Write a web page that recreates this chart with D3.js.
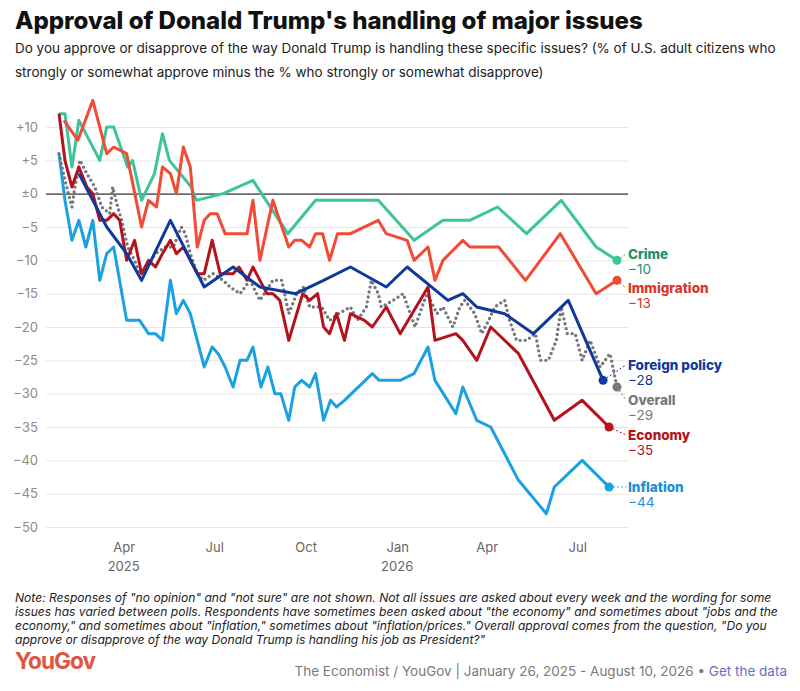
<!DOCTYPE html>
<html>
<head>
<meta charset="utf-8">
<script src="https://cdn.jsdelivr.net/npm/d3@7"></script>
<style>
body { margin: 0; background: #fff; }
text { font-family: Inter, "Noto Sans", sans-serif; }
</style>
</head>
<body>
<div id="chart"></div>
<script>
// Net approval (% approve minus % disapprove)
var crime = [
  ["2025-01-26",12],["2025-02-01",12],["2025-02-08",4],["2025-02-15",11],["2025-03-08",5],["2025-03-15",10],
  ["2025-03-22",10],["2025-04-05",4],["2025-04-10",5],["2025-04-19",-1],["2025-05-02",3],["2025-05-10",9],
  ["2025-05-17",5],["2025-06-08",1],["2025-06-13",-1],["2025-07-10",0],["2025-08-09",2],["2025-09-13",-6],
  ["2025-10-11",-1],["2025-11-09",-1],["2025-12-13",-1],["2026-01-18",-7],["2026-02-16",-4],["2026-03-15",-4],
  ["2026-04-12",-2],["2026-05-11",-6],["2026-06-15",-1],["2026-07-20",-8],["2026-08-10",-10]
];
var immigration = [
  ["2025-01-31",11],["2025-02-14",8],["2025-03-01",14],["2025-03-15",6],["2025-03-22",7],["2025-04-04",6],
  ["2025-04-19",-5],["2025-04-26",-1],["2025-05-04",-2],["2025-05-10",4],["2025-05-18",3],["2025-05-24",0],
  ["2025-05-31",7],["2025-06-07",4],["2025-06-14",-8],["2025-06-21",-4],["2025-06-27",-3],["2025-07-04",-3],
  ["2025-07-12",-6],["2025-07-19",-6],["2025-07-27",-6],["2025-08-03",-6],["2025-08-09",-1],["2025-08-16",-10],
  ["2025-08-29",-1],["2025-09-14",-8],["2025-09-20",-7],["2025-09-27",-7],["2025-10-05",-8],["2025-10-11",-6],
  ["2025-10-18",-6],["2025-10-25",-10],["2025-11-02",-6],["2025-11-15",-6],["2025-12-13",-4],["2025-12-21",-6],
  ["2026-01-11",-7],["2026-01-18",-10],["2026-02-01",-8],["2026-02-08",-13],["2026-02-16",-10],["2026-03-08",-7],
  ["2026-03-15",-8],["2026-04-13",-8],["2026-05-10",-13],["2026-06-14",-6],["2026-07-20",-15],["2026-08-10",-13]
];
var economy = [
  ["2025-01-26",12],["2025-02-01",5],["2025-02-08",1],["2025-02-15",4],["2025-02-23",1],["2025-03-01",0],
  ["2025-03-08",-4],["2025-03-15",-4],["2025-03-22",-3],["2025-03-28",-4],["2025-04-04",-10],["2025-04-12",-7],
  ["2025-04-19",-12],["2025-04-26",-10],["2025-05-03",-11],["2025-05-10",-9],["2025-05-18",-7],["2025-05-24",-9],
  ["2025-05-31",-8],["2025-06-07",-10],["2025-06-14",-12],["2025-06-21",-12],["2025-06-29",-7],["2025-07-07",-12],
  ["2025-07-14",-12],["2025-07-20",-12],["2025-07-26",-11],["2025-08-03",-13],["2025-08-09",-11],["2025-08-16",-13],
  ["2025-08-23",-15],["2025-08-29",-15],["2025-09-05",-16],["2025-09-14",-22],["2025-09-20",-19],["2025-09-28",-15],
  ["2025-10-05",-16],["2025-10-13",-15],["2025-10-19",-20],["2025-10-25",-21],["2025-11-01",-18],["2025-11-09",-22],
  ["2025-11-15",-18],["2025-11-29",-19],["2025-12-07",-20],["2025-12-21",-17],["2026-01-04",-21],["2026-02-01",-14],
  ["2026-02-08",-22],["2026-03-01",-21],["2026-03-08",-22],["2026-03-22",-25],["2026-04-05",-20],["2026-05-03",-24],
  ["2026-06-08",-34],["2026-07-06",-31],["2026-08-02",-35]
];
var foreignPolicy = [
  ["2025-02-15",3],["2025-03-15",-5],["2025-04-04",-9],["2025-04-19",-13],["2025-05-18",-4],["2025-06-21",-14],
  ["2025-07-20",-11],["2025-08-16",-14],["2025-09-21",-15],["2025-10-19",-13],["2025-11-15",-11],["2025-12-21",-14],
  ["2026-01-11",-11],["2026-02-21",-16],["2026-03-08",-15],["2026-03-22",-17],["2026-04-19",-18],["2026-05-18",-21],
  ["2026-06-22",-16],["2026-07-27",-28]
];
var inflation = [
  ["2025-01-26",6],["2025-02-01",-1],["2025-02-08",-7],["2025-02-15",-4],["2025-02-22",-8],["2025-03-01",-4],
  ["2025-03-08",-13],["2025-03-15",-9],["2025-03-22",-8],["2025-04-04",-19],["2025-04-11",-19],["2025-04-17",-19],
  ["2025-04-26",-21],["2025-05-03",-21],["2025-05-10",-22],["2025-05-18",-13],["2025-05-24",-18],["2025-05-31",-16],
  ["2025-06-07",-18],["2025-06-21",-26],["2025-06-29",-23],["2025-07-05",-24],["2025-07-12",-26],["2025-07-20",-29],
  ["2025-07-27",-25],["2025-08-03",-25],["2025-08-09",-23],["2025-08-17",-29],["2025-08-24",-26],["2025-08-31",-30],
  ["2025-09-06",-30],["2025-09-14",-34],["2025-09-20",-29],["2025-09-27",-28],["2025-10-05",-29],["2025-10-11",-27],
  ["2025-10-19",-34],["2025-10-26",-31],["2025-11-01",-32],["2025-11-09",-31],["2025-12-07",-27],["2025-12-14",-28],
  ["2026-01-04",-28],["2026-01-18",-27],["2026-02-01",-23],["2026-02-08",-28],["2026-03-01",-33],["2026-03-08",-29],
  ["2026-03-22",-34],["2026-04-05",-35],["2026-05-03",-43],["2026-05-31",-48],["2026-06-08",-44],["2026-07-06",-40],
  ["2026-08-02",-44]
];
var overall = [
  ["2025-01-26",6],["2025-02-01",2],["2025-02-08",-2],["2025-02-11",1],["2025-02-16",5],["2025-02-23",3],
  ["2025-03-03",1],["2025-03-10",-2],["2025-03-18",-3],["2025-03-21",1],["2025-03-26",-2],["2025-03-30",-4],
  ["2025-04-05",-8],["2025-04-12",-10],["2025-04-17",-12],["2025-04-24",-11],["2025-05-03",-9],["2025-05-13",-8],
  ["2025-05-21",-8],["2025-05-29",-5],["2025-06-02",-6],["2025-06-07",-9],["2025-06-14",-12],["2025-06-20",-13],
  ["2025-06-30",-12],["2025-07-10",-13],["2025-07-17",-14],["2025-07-27",-15],["2025-08-06",-13],["2025-08-16",-16],
  ["2025-08-29",-13],["2025-09-07",-13],["2025-09-14",-18],["2025-09-22",-15],["2025-09-29",-14],["2025-10-05",-17],
  ["2025-10-17",-17],["2025-10-25",-19],["2025-11-03",-18],["2025-11-15",-17],["2025-11-22",-19],["2025-12-01",-17],
  ["2025-12-06",-13],["2025-12-13",-15],["2025-12-16",-17],["2025-12-28",-16],["2026-01-07",-15],["2026-01-19",-20],
  ["2026-01-26",-17],["2026-01-31",-15],["2026-02-10",-18],["2026-02-16",-17],["2026-02-26",-20],["2026-03-05",-17],
  ["2026-03-10",-16],["2026-03-20",-18],["2026-03-27",-21],["2026-04-03",-19],["2026-04-09",-17],["2026-04-19",-16],
  ["2026-04-24",-19],["2026-05-01",-22],["2026-05-11",-22],["2026-05-20",-21],["2026-05-25",-25],["2026-06-02",-25],
  ["2026-06-10",-22],["2026-06-15",-17],["2026-06-21",-21],["2026-06-29",-21],["2026-07-06",-25],["2026-07-14",-22],
  ["2026-07-19",-24],["2026-07-24",-26],["2026-07-29",-25],["2026-08-03",-24],["2026-08-10",-29]
];

var yTicks = [10, 5, 0, -5, -10, -15, -20, -25, -30, -35, -40, -45, -50];
var xTicks = ["2025-04-01", "2025-07-01", "2025-10-01", "2026-01-01", "2026-04-01", "2026-07-01"];
var yearTicks = [["2025-04-01", "2025"], ["2026-01-01", "2026"]];

var svgWidth = 800;
var svgHeight = 691;

var svg = d3.select("#chart")
  .append("svg")
  .attr("width", svgWidth)
  .attr("height", svgHeight);

var parseDate = d3.timeParse("%Y-%m-%d");

var xScale = d3.scaleTime()
  .domain([parseDate("2025-01-26"), parseDate("2026-08-10")])
  .range([59, 617]);
var yScale = d3.scaleLinear()
  .domain([-50, 10])
  .range([527, 127]);

// shrink / grow a text to a target width
function fitWidth(sel, w) {
  var len = sel.node().getComputedTextLength();
  var fs = parseFloat(sel.attr("font-size"));
  sel.attr("font-size", fs * w / len);
  return fs * w / len;
}

// title + subtitle
var title = svg.append("text")
  .attr("x", 15).attr("y", 29)
  .attr("font-size", 22)
  .attr("font-weight", 800)
  .attr("fill", "#111")
  .text("Approval of Donald Trump's handling of major issues");
fitWidth(title, 628);

var sub1 = svg.append("text")
  .attr("x", 15).attr("y", 53)
  .attr("font-size", 13.5)
  .attr("fill", "#222")
  .text("Do you approve or disapprove of the way Donald Trump is handling these specific issues? (% of U.S. adult citizens who");
var subSize = fitWidth(sub1, 761);
svg.append("text")
  .attr("x", 15).attr("y", 77)
  .attr("font-size", subSize)
  .attr("fill", "#222")
  .text("strongly or somewhat approve minus the % who strongly or somewhat disapprove)");

// y axis with gridlines
function fmtY(v) {
  if (v > 0) return "+" + v;
  if (v === 0) return "\u00b10";
  return "\u2212" + Math.abs(v);
}
var yAxis = svg.append("g")
  .attr("transform", "translate(46,0)")
  .call(d3.axisLeft(yScale).tickValues(yTicks).tickSize(-582).tickPadding(8).tickFormat(fmtY));
yAxis.select(".domain").remove();
yAxis.selectAll(".tick line")
  .attr("stroke", d => d === 0 ? "#6b6b6b" : "#e6e6e6")
  .attr("stroke-width", d => d === 0 ? 1.6 : 1);
yAxis.selectAll(".tick text")
  .attr("fill", "#8c8c8c")
  .attr("font-size", 13)
  .attr("font-family", "Inter, sans-serif");

// x axis
var xAxis = svg.append("g")
  .attr("transform", "translate(0,537)")
  .call(d3.axisBottom(xScale)
    .tickValues(xTicks.map(parseDate))
    .tickSize(0).tickPadding(6)
    .tickFormat(d3.timeFormat("%b")));
xAxis.select(".domain").remove();
xAxis.selectAll(".tick text")
  .attr("fill", "#666")
  .attr("font-size", 13)
  .attr("font-family", "Inter, sans-serif");

svg.append("g").selectAll("text")
  .data(yearTicks)
  .enter()
  .append("text")
  .attr("x", d => xScale(parseDate(d[0])))
  .attr("y", 571)
  .attr("text-anchor", "middle")
  .attr("font-size", 13)
  .attr("fill", "#666")
  .text(d => d[1]);

// series
var series = [
  { name: "Crime", data: crime, color: "#3cc49c", text: "#1f8f6d", labelY: 254 },
  { name: "Immigration", data: immigration, color: "#f24b35", text: "#d8372a", labelY: 288 },
  { name: "Inflation", data: inflation, color: "#1ba1e2", text: "#1a8fd3", labelY: 487 },
  { name: "Overall", data: overall, color: "#76767d", text: "#77777e", labelY: 400, dotted: true },
  { name: "Economy", data: economy, color: "#b3131c", text: "#b3131c", labelY: 435 },
  { name: "Foreign policy", data: foreignPolicy, color: "#0f3a9b", text: "#0f3a9b", labelY: 365 }
];

var line = d3.line()
  .x(d => xScale(parseDate(d[0])))
  .y(d => yScale(d[1]));

var linesGroup = svg.append("g");
series.forEach(function(s) {
  var path = linesGroup.append("path")
    .datum(s.data)
    .attr("d", line)
    .attr("fill", "none")
    .attr("stroke", s.color)
    .attr("stroke-linejoin", "round");
  if (s.dotted) {
    path.attr("stroke-width", 3.4)
      .attr("stroke-linecap", "round")
      .attr("stroke-dasharray", "0,5");
  } else {
    path.attr("stroke-width", 3);
  }
});

// end dots, connectors and labels
var labelX = 628;
series.forEach(function(s) {
  var last = s.data[s.data.length - 1];
  var cx = xScale(parseDate(last[0]));
  var cy = yScale(last[1]);
  svg.append("line")
    .attr("x1", cx).attr("y1", cy)
    .attr("x2", labelX - 2).attr("y2", s.labelY)
    .attr("stroke", s.color)
    .attr("stroke-width", 1)
    .attr("stroke-dasharray", "2,2");
  svg.append("circle")
    .attr("cx", cx).attr("cy", cy)
    .attr("r", 4.5)
    .attr("fill", s.color);
  svg.append("text")
    .attr("x", labelX).attr("y", s.labelY + 5)
    .attr("font-size", 13.5)
    .attr("font-weight", 800)
    .attr("fill", s.text)
    .text(s.name);
  svg.append("text")
    .attr("x", labelX).attr("y", s.labelY + 20)
    .attr("font-size", 13.5)
    .attr("fill", s.text)
    .text(fmtY(last[1]));
});

// note
var noteLines = [
  "Note: Responses of \"no opinion\" and \"not sure\" are not shown. Not all issues are asked about every week and the wording for some",
  "issues has varied between polls. Respondents have sometimes been asked about \"the economy\" and sometimes about \"jobs and the",
  "economy,\" and sometimes about \"inflation,\" sometimes about \"inflation/prices.\" Overall approval comes from the question, \"Do you",
  "approve or disapprove of the way Donald Trump is handling his job as President?\""
];
var note = svg.append("g");
var first = note.append("text")
  .attr("x", 15).attr("y", 602)
  .attr("font-size", 13)
  .attr("font-style", "italic")
  .attr("fill", "#222")
  .text(noteLines[0]);
var noteSize = fitWidth(first, 757);
noteLines.slice(1).forEach(function(t, i) {
  note.append("text")
    .attr("x", 15).attr("y", 602 + 14 * (i + 1))
    .attr("font-size", noteSize)
    .attr("font-style", "italic")
    .attr("fill", "#222")
    .text(t);
});

// footer
var logo = svg.append("text")
  .attr("x", 15).attr("y", 669)
  .attr("font-size", 22)
  .attr("font-weight", 700)
  .attr("letter-spacing", -1)
  .attr("fill", "#e0553f")
  .text("YouGov");
fitWidth(logo, 80);

var source = svg.append("text")
  .attr("x", 787).attr("y", 676)
  .attr("text-anchor", "end")
  .attr("font-size", 13.5)
  .attr("font-family", "Roboto, sans-serif")
  .attr("fill", "#7a7a7a");
source.append("tspan").text("The Economist / YouGov | January 26, 2025 - August 10, 2026 \u2022 ");
source.append("tspan").attr("fill", "#6c6ccc").text("Get the data");
</script>
</body>
</html>
